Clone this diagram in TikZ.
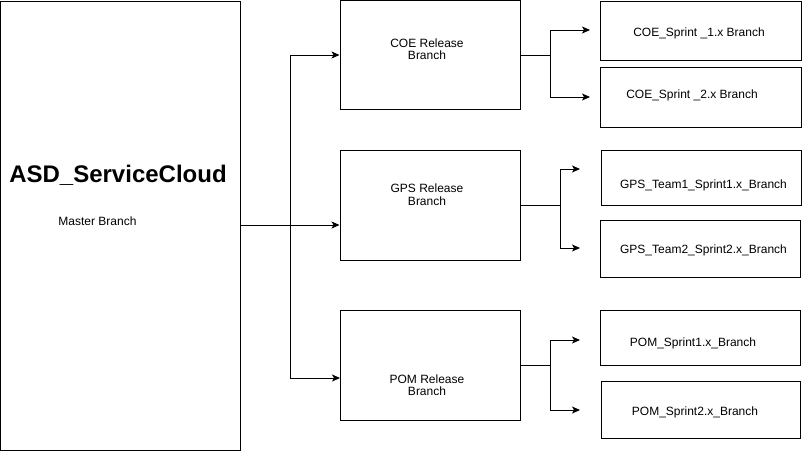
\documentclass[tikz,border=0pt]{standalone}
\usepackage{fontspec}
\setmainfont{Liberation Sans}
\usetikzlibrary{arrows.meta}

\begin{document}
\begin{tikzpicture}[x=1pt,y=-1pt,
	branch/.style = {draw,line width=1pt,inner sep=0pt},
	label/.style = {font=\fontsize{12}{12.5}\selectfont,align=center,inner sep=0pt},
	arr/.style = {-{Stealth[length=8pt,width=7pt,inset=2pt]},line width=1pt}]
	\useasboundingbox (0,0) rectangle (802,451);

	\node[branch,minimum width=240pt,minimum height=449pt] (master) at (120.5,225.5) {};
	\node[inner sep=0pt,anchor=base,font=\bfseries\fontsize{24}{28}\selectfont] (title) at (118,182.5) {ASD\_ServiceCloud};
	\node[label,anchor=base] (masterT) at (97.5,225) {Master Branch};

	\node[branch,minimum width=180pt,minimum height=109pt] (coe) at (430,55) {};
	\node[branch,minimum width=180pt,minimum height=110pt] (gps) at (430,205) {};
	\node[branch,minimum width=180pt,minimum height=110pt] (pom) at (430,365) {};
	\node[label] (coeT) at (427,49) {COE Release\\Branch};
	\node[label] (gpsT) at (427,194.5) {GPS Release\\Branch};
	\node[label] (pomT) at (427,385) {POM Release\\Branch};

	\node[branch,minimum width=201pt,minimum height=59pt] (coe1) at (700.5,30.5) {};
	\node[branch,minimum width=201pt,minimum height=60pt] (coe2) at (700.5,97) {};
	\node[branch,minimum width=200pt,minimum height=55pt] (gps1) at (701,177.5) {};
	\node[branch,minimum width=200pt,minimum height=57pt] (gps2) at (700,248.5) {};
	\node[branch,minimum width=200pt,minimum height=55pt] (pom1) at (700,337.5) {};
	\node[branch,minimum width=199pt,minimum height=57pt] (pom2) at (700.5,409.5) {};
	\node[label,anchor=base] (coe1T) at (699,36) {COE\_Sprint \_1.x Branch};
	\node[label,anchor=base] (coe2T) at (692,98) {COE\_Sprint \_2.x Branch};
	\node[label,anchor=base] (gps1T) at (703.5,188.5) {GPS\_Team1\_Sprint1.x\_Branch};
	\node[label,anchor=base] (gps2T) at (703.5,253.5) {GPS\_Team2\_Sprint2.x\_Branch};
	\node[label,anchor=base] (pom1T) at (693,346.5) {POM\_Sprint1.x\_Branch};
	\node[label,anchor=base] (pom2T) at (695,415) {POM\_Sprint2.x\_Branch};

	% master to release branches
	\coordinate (fork) at (290,225);
	\coordinate (toPom) at (340,378);
	\draw[arr] (master.east |- fork) -- (gps.west |- fork);
	\draw[arr] (fork) |- (coe.west);
	\draw[arr] (fork) |- (toPom);

	% release to sprint branches
	\coordinate (coeFork) at (550,55);
	\coordinate (toCoe1) at (590,30);
	\coordinate (toCoe2) at (590,97);
	\draw[line width=1pt] (coe.east) -- (coeFork);
	\draw[arr] (coeFork) |- (toCoe1);
	\draw[arr] (coeFork) |- (toCoe2);

	\coordinate (gpsFork) at (560,205);
	\coordinate (toGps1) at (580,169);
	\coordinate (toGps2) at (580,248);
	\draw[line width=1pt] (gps.east) -- (gpsFork);
	\draw[arr] (gpsFork) |- (toGps1);
	\draw[arr] (gpsFork) |- (toGps2);

	\coordinate (pomFork) at (550,365);
	\coordinate (toPom1) at (580,340);
	\coordinate (toPom2) at (580,410);
	\draw[line width=1pt] (pom.east) -- (pomFork);
	\draw[arr] (pomFork) |- (toPom1);
	\draw[arr] (pomFork) |- (toPom2);
\end{tikzpicture}
\end{document}
